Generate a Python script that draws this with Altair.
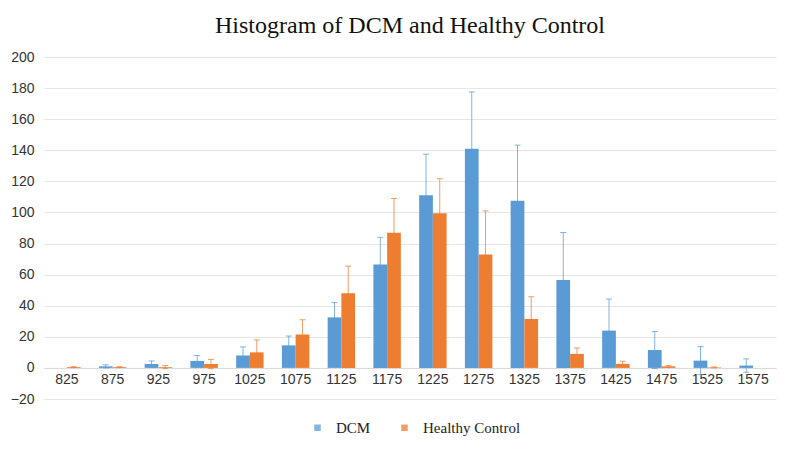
import altair as alt
import pandas as pd

categories = ["825", "875", "925", "975", "1025", "1075", "1125", "1175",
              "1225", "1275", "1325", "1375", "1425", "1475", "1525", "1575"]
dcm = [0, 1, 2.5, 4.5, 8, 14.5, 32.5, 66.5, 111, 141, 107.5, 56.5, 24, 11.5, 4.7, 1.5]
dcm_err = [0, 1, 2, 3.5, 5.5, 6, 9.5, 17.5, 26.5, 36.5, 35.8, 30.6, 20.3, 11.9, 9, 4.3]
hc = [0.5, 0.5, 0.5, 2.5, 10, 21.5, 48, 87, 99.5, 73, 31.5, 9, 2.6, 1, 0.3, 0]
hc_err = [0.3, 0.3, 1, 3, 8, 9.5, 17.5, 22, 22.2, 28, 14.3, 3.8, 1.7, 0.6, 0.3, 0]
series = ["DCM", "Healthy Control"]
colors = ["#5B9BD5", "#ED7D31"]
y_ticks = [-20, 0, 20, 40, 60, 80, 100, 120, 140, 160, 180, 200]

rows = []
for name, vals, errs in [(series[0], dcm, dcm_err), (series[1], hc, hc_err)]:
    for c, v, e in zip(categories, vals, errs):
        rows.append({"bin": c, "group": name, "value": v, "err": e,
                     "lo": v - e, "hi": v + e})
df = pd.DataFrame(rows)

W, H = 732, 342
x_enc = alt.X("bin:N", sort=categories, title=None,
              scale=alt.Scale(paddingInner=0.4, paddingOuter=0.2),
              axis=alt.Axis(labelAngle=0, labelFont="Liberation Sans", labelFontSize=14,
                            labelColor="#333333", ticks=False, domainColor="#D9D9D9",
                            labelPadding=5, offset=-H / 11, labelOverlap=False))
color_enc = alt.Color("group:N", sort=series,
                      scale=alt.Scale(domain=series, range=colors),
                      legend=alt.Legend(title=None, orient="none", direction="horizontal",
                                        legendX=266, legendY=363, symbolType="square",
                                        symbolSize=42, labelFont="Liberation Serif",
                                        labelFontSize=15, labelColor="#222222",
                                        labelOffset=11, columnPadding=26,
                                        symbolStrokeWidth=0))
xoff = alt.XOffset("group:N", sort=series, scale=alt.Scale(paddingInner=0))
y_scale = alt.Scale(domain=[-20, 200], nice=False, zero=False)
y_axis = alt.Axis(values=y_ticks, labelFont="Liberation Sans", labelFontSize=14,
                  labelColor="#333333", ticks=False, domain=False, gridColor="#E6E6E6",
                  labelPadding=10, labelOverlap=False, labelFlush=False)


def yq(field):
    return alt.Y(field, scale=y_scale, title=None, axis=y_axis)


base = alt.Chart(df)
errs = base.transform_filter("datum.err > 0")
rules = errs.mark_rule(strokeWidth=1, opacity=0.75).encode(
    x=x_enc, xOffset=xoff, y=yq("lo:Q"), y2="hi:Q", color=color_enc)
cap_hi = errs.mark_tick(size=6, thickness=1, opacity=0.75).encode(
    x=x_enc, xOffset=xoff, y=yq("hi:Q"), color=color_enc)
cap_lo = errs.mark_tick(size=6, thickness=1, opacity=0.75).encode(
    x=x_enc, xOffset=xoff, y=yq("lo:Q"), color=color_enc)
bars = base.mark_bar().encode(
    x=x_enc, xOffset=xoff, y=yq("value:Q"), y2=alt.datum(0), color=color_enc)

chart = alt.layer(rules, cap_hi, cap_lo, bars).properties(
    width=W, height=H,
    title=alt.TitleParams("Histogram of DCM and Healthy Control", font="Liberation Serif",
                          fontSize=24, fontWeight="normal", color="#111111", offset=12),
    autosize=alt.AutoSizeParams(type="none"),
    padding={"left": 36, "top": 49, "right": 16, "bottom": 42},
).configure(background="white").configure_view(strokeWidth=0)

chart.save("out.html", embed_options={"renderer": "svg", "actions": False})
